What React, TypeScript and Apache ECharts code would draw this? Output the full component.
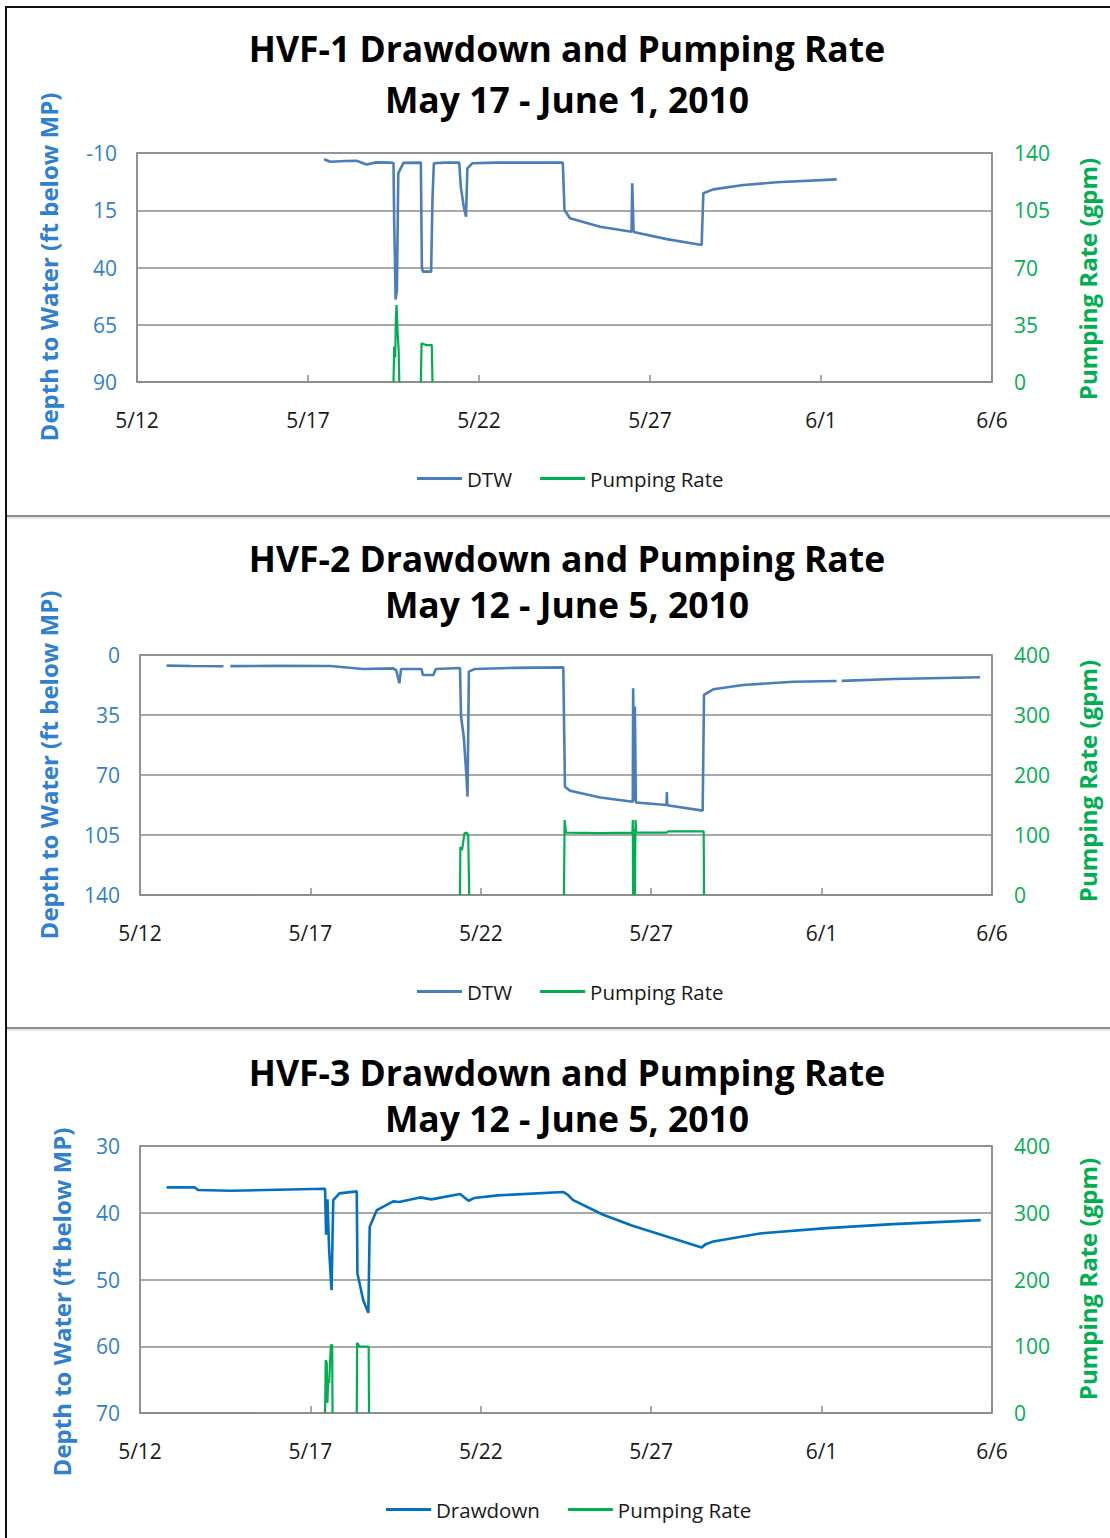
import React, { useEffect, useRef } from "react";
import * as echarts from "echarts";

// x values are days after 5/12/2010
const dateLabels = ["5/12", "5/17", "5/22", "5/27", "6/1", "6/6"];

const titles1 = ["HVF-1 Drawdown and Pumping Rate", "May 17 - June 1, 2010"];
const titles2 = ["HVF-2 Drawdown and Pumping Rate", "May 12 - June 5, 2010"];
const titles3 = ["HVF-3 Drawdown and Pumping Rate", "May 12 - June 5, 2010"];

const hvf1Dtw: (number | null)[][] = [
  [5.47, -7.3], [5.65, -6.2], [6.1, -6.5], [6.42, -6.6], [6.71, -5.0], [7.0, -5.9], [7.4, -5.8],
  [7.5, -5.6], [7.52, 20], [7.54, 35], [7.56, 54], [7.6, 50], [7.64, -1.1], [7.79, -5.7],
  [8.3, -5.8], [8.33, 40], [8.36, 41.8], [8.6, 41.8], [8.64, 10], [8.68, -5.5], [9.0, -5.8],
  [9.42, -5.8], [9.47, 5], [9.55, 13], [9.62, 17.8], [9.66, -3.3], [9.8, -5.5], [10.5, -5.8],
  [12.45, -5.8], [12.5, 14.9], [12.66, 18.5], [13.54, 22.2], [14.46, 24.4], [14.48, 3.2],
  [14.52, 24.5], [15.49, 27.6], [16.51, 30.2], [16.56, 7.6], [16.85, 5.9], [17.73, 4.0],
  [18.7, 2.8], [20.46, 1.5],
];
const hvf1Rate: (number | null)[][] = [
  [7.5, 0], [7.52, 21.6], [7.55, 15], [7.57, 40], [7.59, 47], [7.62, 30], [7.65, 20], [7.67, 0],
  [7.9, null],
  [8.3, 0], [8.32, 23.6], [8.45, 22.6], [8.62, 22.6], [8.64, 0],
];

const hvf2Dtw: (number | null)[][] = [
  [0.78, 6.2], [1.5, 6.4], [2.45, 6.6], [2.55, null], [2.65, 6.5], [4.0, 6.3], [5.58, 6.4],
  [6.55, 8.2], [7.43, 7.8], [7.52, 9], [7.61, 16.5], [7.66, 8.2], [8.26, 8.2], [8.3, 11.7],
  [8.61, 11.7], [8.68, 8.2], [9.39, 7.6], [9.42, 36], [9.5, 47.6], [9.58, 71], [9.61, 82.6],
  [9.65, 9.7], [9.81, 8.2], [11, 7.5], [12.42, 7.2], [12.47, 76.8], [12.62, 79.2], [13.5, 83.1],
  [14.46, 85.6], [14.47, 19.4], [14.5, 85], [14.52, 30], [14.55, 86], [15.45, 87.5],
  [15.46, 80], [15.47, 87.6], [16.51, 90.8], [16.55, 23.3], [16.82, 20], [17.7, 17.5],
  [19.17, 15.6], [20.44, 15.2], [20.5, null], [20.59, 15.1], [22.1, 14.0], [24.65, 13.0],
];
const hvf2Rate: (number | null)[][] = [
  [9.39, 0], [9.4, 80], [9.45, 75], [9.52, 102.8], [9.58, 104], [9.63, 100], [9.66, 0],
  [11, null],
  [12.44, 0], [12.46, 125], [12.5, 104], [13.5, 103], [14.45, 104], [14.46, 125], [14.47, 0],
  [14.5, 110], [14.52, 0], [14.54, 125], [14.56, 104], [15.45, 104], [15.5, 106], [16.54, 106],
  [16.55, 0],
];

const hvf3Dtw: (number | null)[][] = [
  [0.78, 36.2], [1.61, 36.2], [1.7, 36.6], [2.67, 36.7], [5.43, 36.4], [5.46, 43.3], [5.5, 38],
  [5.55, 45.6], [5.62, 51.6], [5.67, 38.1], [5.85, 37.1], [6.36, 36.8], [6.38, 49.1],
  [6.55, 53.1], [6.7, 55.0], [6.74, 42.1], [6.95, 39.6], [7.43, 38.3], [7.6, 38.4], [8.22, 37.7],
  [8.55, 38.0], [9.39, 37.2], [9.64, 38.2], [9.8, 37.8], [10.5, 37.4], [12.42, 36.9],
  [12.55, 37.3], [12.71, 38.1], [13.59, 40.3], [14.43, 41.9], [16.48, 45.2], [16.6, 44.7],
  [16.82, 44.3], [18.19, 43.1], [20.15, 42.3], [22.1, 41.7], [24.67, 41.1],
];
const hvf3Rate: (number | null)[][] = [
  [5.43, 0], [5.45, 79.4], [5.48, 75], [5.5, 15], [5.52, 50], [5.55, 45], [5.6, 101.9],
  [5.64, 101.9], [5.65, 0],
  [6.0, null],
  [6.36, 0], [6.37, 105.3], [6.44, 99.4], [6.71, 99.4], [6.72, 0],
];

const FONT = "Open Sans";
const BLUE_TXT = "#2F80D0";
const GREEN = "#00B050";
const GRID_GRAY = "#8C8C8C";

function App() {
  const ref = useRef<HTMLDivElement>(null);
  useEffect(() => {
    if (!ref.current) return;
    const chart = echarts.init(ref.current, null, { renderer: "svg" });

    const panels = [
      { top: 153, height: 229, left: 137, lmin: -10, lmax: 90, lint: 25, rmax: 140, rint: 35,
        dtw: hvf1Dtw, rate: hvf1Rate, dname: "DTW", dcolor: "#4A7EBB", titles: titles1,
        t1: 48, t2: 99, legMid: 480, legLeft: 417, lname: 267, rname: 279, lx: 48 },
      { top: 655, height: 240, left: 140, lmin: 0, lmax: 140, lint: 35, rmax: 400, rint: 100,
        dtw: hvf2Dtw, rate: hvf2Rate, dname: "DTW", dcolor: "#4A7EBB", titles: titles2,
        t1: 558, t2: 604, legMid: 993, legLeft: 417, lname: 765, rname: 781, lx: 48 },
      { top: 1146, height: 267, left: 140, lmin: 30, lmax: 70, lint: 10, rmax: 400, rint: 100,
        dtw: hvf3Dtw, rate: hvf3Rate, dname: "Drawdown", dcolor: "#0070C0", titles: titles3,
        t1: 1072, t2: 1118, legMid: 1511, legLeft: 386, lname: 1302, rname: 1279, lx: 61 },
    ];

    const grid: any[] = [];
    const xAxis: any[] = [];
    const yAxis: any[] = [];
    const series: any[] = [];
    const legend: any[] = [];
    const graphic: any[] = [];

    const axisLineGray = { show: true, onZero: false, lineStyle: { color: GRID_GRAY, width: 1.5 } };
    const LBL = 21;

    panels.forEach((p, i) => {
      grid.push({ left: p.left, width: 992 - p.left, top: p.top, height: p.height,
        show: true, borderColor: GRID_GRAY, borderWidth: 1.5, backgroundColor: "transparent" });
      xAxis.push({
        type: "value", gridIndex: i, min: 0, max: 25, interval: 5,
        axisLine: axisLineGray,
        axisTick: { show: true, inside: true, length: 7, lineStyle: { color: GRID_GRAY, width: 1.5 } },
        splitLine: { show: false },
        axisLabel: { margin: 27, color: "#1A1A1A", fontSize: LBL, fontFamily: FONT,
          formatter: (v: number) => dateLabels[Math.round(v / 5)] ?? "" },
      });
      yAxis.push({
        type: "value", gridIndex: i, inverse: true, min: p.lmin, max: p.lmax, interval: p.lint,
        position: "left",
        axisLine: axisLineGray, axisTick: { show: false },
        splitLine: { show: false },
        axisLabel: { margin: 20, color: BLUE_TXT, fontSize: LBL, fontFamily: FONT },
      });
      yAxis.push({
        type: "value", gridIndex: i, min: 0, max: p.rmax, interval: p.rint, position: "right",
        axisLine: axisLineGray, axisTick: { show: false },
        splitLine: { show: true, lineStyle: { color: GRID_GRAY, width: 1.5 } },
        axisLabel: { margin: 22, color: GREEN, fontSize: LBL, fontFamily: FONT },
      });
      series.push({
        name: p.dname, type: "line", xAxisIndex: i, yAxisIndex: i * 2, data: p.dtw,
        symbol: "none", connectNulls: false,
        lineStyle: { color: p.dcolor, width: 2.6 }, itemStyle: { color: p.dcolor },
      });
      series.push({
        name: "Pumping Rate", type: "line", xAxisIndex: i, yAxisIndex: i * 2 + 1, data: p.rate,
        symbol: "none", connectNulls: false,
        lineStyle: { color: GREEN, width: 2.2 }, itemStyle: { color: GREEN },
      });
      legend.push({
        top: p.legMid - 12, left: p.legLeft, padding: 0, itemWidth: 45, itemHeight: 3, itemGap: 28,
        icon: "rect", data: [p.dname, "Pumping Rate"],
        textStyle: { fontSize: 20.5, fontFamily: FONT, color: "#1A1A1A" },
      });
      graphic.push({ type: "text", x: 567, y: p.t1,
        style: { text: p.titles[0], fontSize: 35.5, fontWeight: "bold", fontFamily: FONT,
          fill: "#000", textAlign: "center", textVerticalAlign: "middle" } });
      graphic.push({ type: "text", x: 567, y: p.t2,
        style: { text: p.titles[1], fontSize: 35.5, fontWeight: "bold", fontFamily: FONT,
          fill: "#000", textAlign: "center", textVerticalAlign: "middle" } });
      graphic.push({ type: "text", x: p.lx, y: p.lname, rotation: Math.PI / 2,
        style: { text: "Depth to Water (ft below MP)", fontSize: 24, fontWeight: "bold",
          fontFamily: FONT, fill: BLUE_TXT, textAlign: "center", textVerticalAlign: "middle" } });
      graphic.push({ type: "text", x: 1087, y: p.rname, rotation: Math.PI / 2,
        style: { text: "Pumping Rate (gpm)", fontSize: 24, fontWeight: "bold",
          fontFamily: FONT, fill: GREEN, textAlign: "center", textVerticalAlign: "middle" } });
    });

    // frame
    graphic.push({ type: "line", shape: { x1: 5, y1: 7, x2: 1110, y2: 7 }, style: { stroke: "#111", lineWidth: 2 } });
    graphic.push({ type: "line", shape: { x1: 6, y1: 6, x2: 6, y2: 1538 }, style: { stroke: "#111", lineWidth: 2 } });
    [516, 1028].forEach((y) => {
      graphic.push({ type: "line", shape: { x1: 7, y1: y, x2: 1110, y2: y }, style: { stroke: "#8A8A8A", lineWidth: 2 } });
      graphic.push({ type: "line", shape: { x1: 7, y1: y + 2, x2: 1110, y2: y + 2 }, style: { stroke: "#D0D0D0", lineWidth: 1 } });
    });

    chart.setOption({
      animation: false,
      backgroundColor: "#fff",
      textStyle: { fontFamily: FONT },
      grid, xAxis, yAxis, series, legend, graphic,
    });
    return () => chart.dispose();
  }, []);
  return (
    <div ref={ref} style={{ position: "absolute", left: 0, top: 0, width: 1110, height: 1538 }} />
  );
}

export default App;
